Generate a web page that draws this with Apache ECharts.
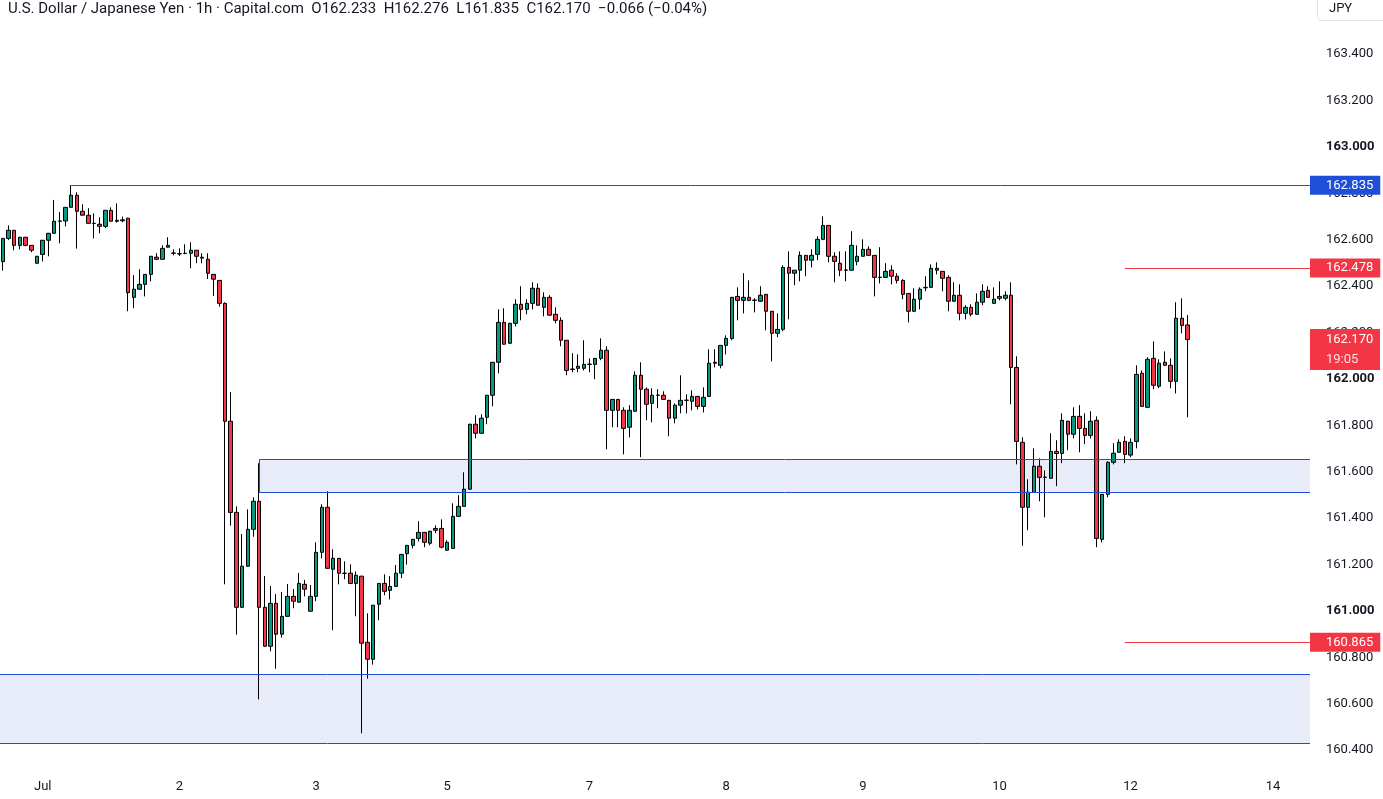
<!DOCTYPE html>
<html><head><meta charset="utf-8">
<script src="https://cdn.jsdelivr.net/npm/echarts/dist/echarts.min.js"></script>
<style>html,body{margin:0;padding:0;background:#fff;}#c{width:1383px;height:799px;}</style>
</head><body><div id="c"></div>
<script>
// ---- data (USD/JPY, 1h candles) ----
const open = [
162.506,162.606,162.641,162.576,162.611,162.576,162.499,162.537,162.598,162.628,
162.680,162.681,162.740,162.792,162.723,162.706,162.671,162.667,162.658,162.727,
162.684,162.682,162.693,162.352,162.387,162.408,162.451,162.525,162.516,162.568,
162.543,162.540,162.541,162.542,162.555,162.525,162.516,162.451,162.425,162.326,
161.818,161.425,161.016,161.193,161.352,161.473,161.016,160.848,161.033,160.900,
160.977,161.063,161.038,161.115,160.999,161.063,161.253,161.447,161.180,161.227,
161.163,161.163,161.119,161.150,160.865,160.792,161.029,161.119,161.089,161.106,
161.163,161.247,161.283,161.313,161.339,161.292,161.348,161.356,161.262,161.270,
161.408,161.451,161.525,161.805,161.766,161.835,161.930,162.072,162.244,162.154,
162.240,162.322,162.300,162.326,162.391,162.309,162.352,162.279,162.253,162.167,
162.041,162.046,162.046,162.063,162.063,162.089,162.124,161.865,161.912,161.865,
161.792,161.861,162.016,161.956,161.895,161.930,161.930,161.908,161.831,161.887,
161.908,161.904,161.925,161.882,161.925,162.068,162.059,162.145,162.175,162.356,
162.339,162.352,162.339,162.335,162.365,162.292,162.197,162.214,162.481,162.456,
162.469,162.533,162.512,162.537,162.602,162.662,162.529,162.499,162.469,162.469,
162.507,162.529,162.559,162.533,162.438,162.438,162.469,162.443,162.425,162.369,
162.292,162.344,162.393,162.395,162.477,162.464,162.438,162.335,162.361,162.283,
162.309,162.279,162.331,162.382,162.326,162.356,162.348,162.361,162.050,161.727,
161.447,161.512,161.624,161.576,161.572,161.688,161.679,161.818,161.762,161.839,
161.787,161.757,161.822,161.309,161.503,161.641,161.684,161.731,161.672,161.731,
162.025,161.878,162.089,161.969,162.072,162.059,161.990,162.262,162.233];
const close = [
162.606,162.641,162.576,162.611,162.576,162.555,162.529,162.598,162.628,162.680,
162.681,162.740,162.792,162.723,162.706,162.671,162.670,162.658,162.727,162.680,
162.680,162.686,162.372,162.387,162.408,162.451,162.529,162.516,162.563,162.576,
162.542,162.539,162.542,162.555,162.529,162.521,162.456,162.430,162.326,161.818,
161.425,161.016,161.193,161.352,161.473,161.016,160.848,161.033,160.900,160.977,
161.063,161.042,161.119,161.094,161.063,161.253,161.447,161.184,161.227,161.163,
161.162,161.119,161.154,160.861,160.792,161.025,161.119,161.085,161.106,161.163,
161.244,161.283,161.309,161.339,161.296,161.344,161.356,161.275,161.296,161.408,
161.451,161.525,161.805,161.766,161.831,161.930,162.072,162.244,162.150,162.240,
162.322,162.300,162.326,162.391,162.318,162.352,162.275,162.253,162.167,162.037,
162.043,162.055,162.063,162.064,162.089,162.124,161.865,161.912,161.865,161.787,
161.865,162.016,161.956,161.891,161.930,161.931,161.912,161.831,161.887,161.908,
161.909,161.925,161.882,161.921,162.068,162.072,162.145,162.175,162.352,162.339,
162.352,162.339,162.340,162.361,162.292,162.197,162.214,162.481,162.456,162.469,
162.533,162.512,162.533,162.602,162.662,162.529,162.507,162.469,162.470,162.576,
162.529,162.559,162.533,162.438,162.439,162.464,162.443,162.425,162.365,162.292,
162.344,162.387,162.395,162.477,162.469,162.434,162.335,162.361,162.283,162.309,
162.279,162.331,162.378,162.352,162.344,162.348,162.361,162.050,161.731,161.447,
161.512,161.624,161.576,161.577,161.688,161.679,161.822,161.762,161.839,161.787,
161.757,161.818,161.313,161.503,161.641,161.680,161.727,161.675,161.727,162.020,
161.882,162.085,161.973,162.068,162.059,161.990,162.262,162.231,162.170];
const high = [
162.608,162.662,162.641,162.612,162.612,162.576,162.530,162.599,162.629,162.772,
162.720,162.741,162.835,162.805,162.753,162.736,162.714,162.697,162.728,162.740,
162.757,162.700,162.695,162.448,162.473,162.452,162.530,162.542,162.576,162.611,
162.559,162.563,162.581,162.589,162.556,162.542,162.542,162.452,162.427,162.330,
161.944,161.451,161.332,161.438,161.490,161.637,161.151,161.108,161.073,161.082,
161.116,161.095,161.164,161.134,161.112,161.296,161.460,161.516,161.266,161.228,
161.214,161.201,161.171,161.152,160.990,161.026,161.120,161.158,161.150,161.198,
161.246,161.284,161.310,161.387,161.340,161.345,161.369,161.395,161.305,161.464,
161.499,161.598,161.807,161.844,161.848,161.931,162.073,162.300,162.305,162.242,
162.344,162.400,162.344,162.417,162.412,162.374,162.361,162.309,162.266,162.168,
162.111,162.106,162.167,162.089,162.090,162.175,162.141,161.913,161.913,161.878,
161.887,162.033,162.072,161.964,161.960,161.956,161.947,161.910,161.895,162.016,
161.934,161.951,161.926,161.964,162.128,162.128,162.146,162.188,162.353,162.395,
162.456,162.425,162.348,162.400,162.366,162.293,162.283,162.490,162.550,162.470,
162.550,162.534,162.559,162.615,162.701,162.663,162.546,162.550,162.550,162.637,
162.576,162.602,162.572,162.534,162.568,162.499,162.490,162.456,162.430,162.370,
162.391,162.395,162.443,162.494,162.503,162.465,162.447,162.417,162.408,162.318,
162.322,162.369,162.408,162.400,162.395,162.421,162.378,162.417,162.098,161.749,
161.568,161.701,161.658,161.606,161.766,161.736,161.852,161.820,161.878,161.887,
161.852,161.861,161.839,161.504,161.645,161.723,161.740,161.753,161.744,162.059,
162.037,162.094,162.162,162.085,162.119,162.089,162.331,162.348,162.276];
const low = [
162.467,162.599,162.555,162.559,162.572,162.546,162.497,162.507,162.529,162.627,
162.585,162.658,162.739,162.562,162.705,162.670,162.606,162.628,162.650,162.679,
162.674,162.676,162.292,162.305,162.385,162.356,162.421,162.513,162.515,162.567,
162.533,162.530,162.538,162.477,162.499,162.499,162.431,162.358,162.312,161.115,
161.368,160.898,161.014,161.190,161.320,160.619,160.846,160.826,160.751,160.885,
160.975,161.012,161.036,161.063,160.998,161.042,161.227,161.182,160.917,161.115,
161.137,161.118,160.977,160.473,160.708,160.769,160.960,161.068,161.050,161.104,
161.142,161.200,161.270,161.300,161.275,161.283,161.335,161.270,161.260,161.268,
161.406,161.450,161.523,161.744,161.765,161.805,161.882,162.025,162.148,162.152,
162.227,162.253,162.279,162.300,162.316,162.270,162.273,162.240,162.141,162.016,
162.029,162.029,162.037,162.029,161.999,162.081,161.697,161.792,161.792,161.675,
161.749,161.859,161.663,161.822,161.813,161.874,161.911,161.753,161.809,161.852,
161.852,161.865,161.869,161.856,161.923,162.050,162.046,162.106,162.167,162.253,
162.283,162.335,162.287,162.333,162.210,162.076,162.180,162.206,162.257,162.404,
162.421,162.443,162.481,162.512,162.598,162.503,162.417,162.443,162.421,162.467,
162.490,162.527,162.532,162.356,162.412,162.436,162.408,162.412,162.344,162.244,
162.290,162.300,162.378,162.393,162.451,162.378,162.292,162.333,162.253,162.257,
162.270,162.277,162.318,162.350,162.324,162.339,162.339,161.891,161.632,161.281,
161.348,161.510,161.473,161.404,161.570,161.538,161.637,161.693,161.744,161.684,
161.719,161.744,161.275,161.296,161.490,161.632,161.683,161.637,161.663,161.701,
161.880,161.876,161.956,161.960,162.057,161.960,161.938,162.197,161.835];

// time slots on the axis (candles + empty space to the right)
const slotCount = 230;
const categories = Array.from({length: slotCount}, (_, i) => 'h' + i);
const timeTicks = [[7,'Jul'],[31,'2'],[55,'3'],[78,'5'],[103,'7'],[127,'8'],[151,'9'],[175,'10'],[198,'12'],[223,'14']];

// drawn levels (slot units for x)
const highLevel = {price: 162.835, from: 12.5};
const redLevels = [162.478, 160.865];
const redFrom = 197.5;
const zoneA = {from: 45.5, top: 161.655, bottom: 161.513};
const zoneB = {from: 0, top: 160.728, bottom: 160.431};
const lastPrice = 162.170;
const countdown = '19:05';
const headerText = 'U.S. Dollar / Japanese Yen \u00b7 1h \u00b7 Capital.com  O162.233  H162.276  L161.835  C162.170  \u22120.066 (\u22120.04%)';

// ---- chart ----
const FONT = 'Roboto, "Liberation Sans", sans-serif';
const BLUE = '#1f4fd6';
const RED = '#f23645';
const tickMap = new Map(timeTicks);
const ohlc = open.map((o, i) => [o, close[i], low[i], high[i]]);

function tag(text, bg) {
  return {
    show: true, position: 'end', distance: 0, formatter: text,
    backgroundColor: bg, color: '#fff', fontFamily: FONT, fontSize: 13,
    padding: [3, 7, 3, 16], lineHeight: 13
  };
}
function hLine(x0, x1, y, color) {
  return [{coord: [x0, y], lineStyle: {color: color, width: 1, type: 'solid'}, label: {show: false}},
          {coord: [x1, y]}];
}

const zoneBorders = [
  hLine(zoneA.from, slotCount, zoneA.top, BLUE),
  hLine(zoneA.from, slotCount, zoneA.bottom, BLUE),
  [{coord: [zoneA.from, zoneA.top], lineStyle: {color: BLUE, width: 1, type: 'solid'}, label: {show: false}},
   {coord: [zoneA.from, zoneA.bottom]}],
  hLine(zoneB.from, slotCount, zoneB.top, BLUE),
  hLine(zoneB.from, slotCount, zoneB.bottom, BLUE)
];

const chart = echarts.init(document.getElementById('c'), null, {renderer: 'canvas'});
chart.setOption({
  animation: false,
  backgroundColor: '#ffffff',
  grid: {left: 0, right: 73, top: -38.6, height: 835.2, containLabel: false, outerBoundsMode: 'none'},
  xAxis: [{
    type: 'category', data: categories, boundaryGap: true, offset: -26.6,
    axisLine: {show: false}, axisTick: {show: false}, splitLine: {show: false},
    axisLabel: {
      interval: (idx) => tickMap.has(idx),
      formatter: (v, idx) => tickMap.get(idx) || '',
      color: '#131722', fontSize: 13, fontFamily: FONT, margin: 10
    }
  }, {
    type: 'value', min: 0, max: slotCount, show: false
  }],
  yAxis: {
    type: 'value', position: 'right', min: 160.2, max: 163.8, interval: 0.2, scale: true,
    axisLine: {show: false}, axisTick: {show: false}, splitLine: {show: false},
    axisLabel: {
      margin: 16, color: '#131722', fontSize: 13, fontFamily: FONT,
      formatter: (v) => {
        if (v < 160.3 || v > 163.5) return '';
        const s = v.toFixed(3);
        return Math.abs(v - Math.round(v)) < 1e-6 ? '{b|' + s + '}' : s;
      },
      rich: {b: {fontWeight: 'bold', fontSize: 13, fontFamily: FONT, color: '#131722'}}
    }
  },
  series: [{
    type: 'line', xAxisIndex: 1, yAxisIndex: 0, data: [], silent: true, z: 1,
    markArea: {
      silent: true,
      itemStyle: {color: '#e8ecf9', opacity: 1, borderWidth: 0},
      data: [
        [{coord: [zoneA.from, zoneA.top]}, {coord: [slotCount, zoneA.bottom]}],
        [{coord: [zoneB.from, zoneB.top]}, {coord: [slotCount, zoneB.bottom]}]
      ]
    },
    markLine: {
      silent: true, symbol: ['none', 'none'], animation: false,
      data: zoneBorders
    }
  }, {
    type: 'candlestick', xAxisIndex: 0, yAxisIndex: 0, data: ohlc, barWidth: 4,
    itemStyle: {color: '#089981', color0: RED, borderColor: '#000', borderColor0: '#000', borderWidth: 1},
    z: 3
  }, {
    type: 'line', xAxisIndex: 1, yAxisIndex: 0, data: [], silent: true, z: 5,
    markLine: {
      silent: true, symbol: ['none', 'none'], animation: false,
      data: [
        [{coord: [highLevel.from, highLevel.price], lineStyle: {color: BLUE, width: 1, type: 'solid'}, label: tag(highLevel.price.toFixed(3), BLUE)},
         {coord: [slotCount, highLevel.price]}],
        ...redLevels.map(p => [
          {coord: [redFrom, p], lineStyle: {color: RED, width: 1, type: 'solid'}, label: tag(p.toFixed(3), RED)},
          {coord: [slotCount, p]}
        ]),
        [{coord: [slotCount - 0.2, lastPrice], lineStyle: {color: 'rgba(0,0,0,0)', width: 0},
          label: {
            show: true, position: 'end', distance: 0,
            formatter: '{e|}\n{a|' + lastPrice.toFixed(3) + '}\n{c|' + countdown + '}',
            rich: {
              e: {height: 20, lineHeight: 20, width: 70},
              a: {color: '#fff', fontSize: 13, fontFamily: FONT, lineHeight: 20, width: 47,
                  backgroundColor: RED, padding: [4, 7, 4, 16]},
              c: {color: 'rgba(255,255,255,0.85)', fontSize: 13, fontFamily: FONT, lineHeight: 20, width: 47,
                  backgroundColor: RED, padding: [4, 7, 4, 16]}
            }
          }},
         {coord: [slotCount, lastPrice]}]
      ]
    }
  }],
  graphic: [
    {type: 'text', left: 8, top: 2, style: {text: headerText, fontFamily: FONT, fontSize: 15, fill: '#131722'}},
    {type: 'rect', left: 1317, top: -5, shape: {width: 80, height: 25, r: 4}, style: {fill: '#fff', stroke: '#e0e3eb', lineWidth: 1}},
    {type: 'text', left: 1329, top: 2, style: {text: 'JPY', fontFamily: FONT, fontSize: 13, fill: '#131722'}}
  ]
});
</script></body></html>
